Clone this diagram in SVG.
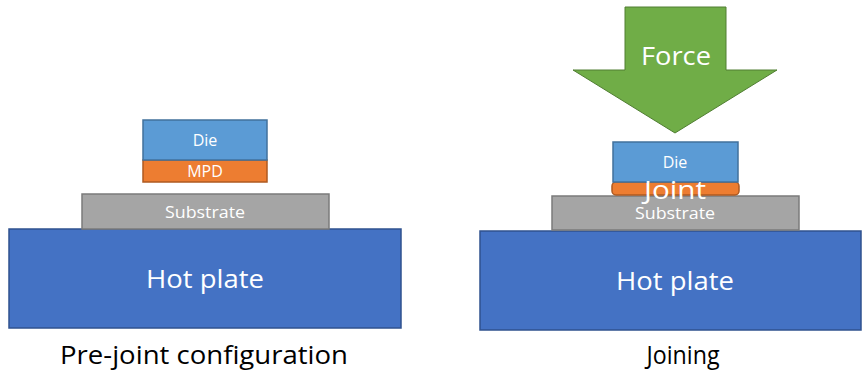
<svg xmlns="http://www.w3.org/2000/svg" width="862" height="373" viewBox="0 0 862 373">
  <style>
    text { font-family: "Open Sans", "Noto Sans", "Liberation Sans", sans-serif; fill: #ffffff; text-anchor: middle; }
    .die { fill: #5B9BD5; stroke: #41719C; stroke-width: 1.5; }
    .mpd { fill: #ED7D31; stroke: #AE5A21; stroke-width: 1.5; }
    .sub { fill: #A5A5A5; stroke: #7B7B7B; stroke-width: 1.5; }
    .hot { fill: #4472C4; stroke: #2F528F; stroke-width: 1.5; }
    .force { fill: #70AD47; stroke: #507E32; stroke-width: 1; }
    .small { font-size: 16px; }
    .big { font-size: 26px; }
    .cap { font-size: 25px; fill: #000000; }
  </style>

  <!-- Left: stack before joining -->
  <g id="hot-plate-left">
    <rect class="hot" x="9" y="229" width="392" height="99"/>
    <text class="big" x="205" y="288" textLength="118" lengthAdjust="spacingAndGlyphs">Hot plate</text>
  </g>
  <g id="substrate-left">
    <rect class="sub" x="82" y="194" width="247" height="35"/>
    <text class="small" x="205" y="218" textLength="80" lengthAdjust="spacingAndGlyphs">Substrate</text>
  </g>
  <g id="mpd-left">
    <rect class="mpd" x="143" y="160" width="124" height="22"/>
    <text class="small" x="205" y="177">MPD</text>
  </g>
  <g id="die-left">
    <rect class="die" x="143" y="120" width="124" height="40"/>
    <text class="small" x="205" y="146">Die</text>
  </g>
  <g id="caption-left">
    <text class="cap" x="204" y="364" textLength="288" lengthAdjust="spacingAndGlyphs">Pre-joint configuration</text>
  </g>

  <!-- Right: stack under force -->
  <g id="hot-plate-right">
    <rect class="hot" x="480" y="231" width="381" height="99"/>
    <text class="big" x="675" y="290" textLength="118" lengthAdjust="spacingAndGlyphs">Hot plate</text>
  </g>
  <g id="substrate-right">
    <rect class="sub" x="552" y="196" width="247" height="34"/>
    <text class="small" x="675" y="219" textLength="80" lengthAdjust="spacingAndGlyphs">Substrate</text>
  </g>
  <g id="joint">
    <rect class="mpd" x="612" y="182" width="127" height="13" rx="4"/>
  </g>
  <g id="die-right">
    <rect class="die" x="613" y="142" width="125" height="40"/>
    <text class="small" x="675" y="168">Die</text>
  </g>
  <g id="joint-label">
    <text class="big" x="675" y="199" textLength="62" lengthAdjust="spacingAndGlyphs">Joint</text>
  </g>
  <g id="force">
    <polygon class="force" points="625,7 726,7 726,70 777,70 675,133 573,70 625,70"/>
    <text class="big" x="676" y="65" textLength="70" lengthAdjust="spacingAndGlyphs">Force</text>
  </g>
  <g id="caption-right">
    <text class="cap" x="683" y="364" textLength="73" lengthAdjust="spacingAndGlyphs">Joining</text>
  </g>
</svg>
